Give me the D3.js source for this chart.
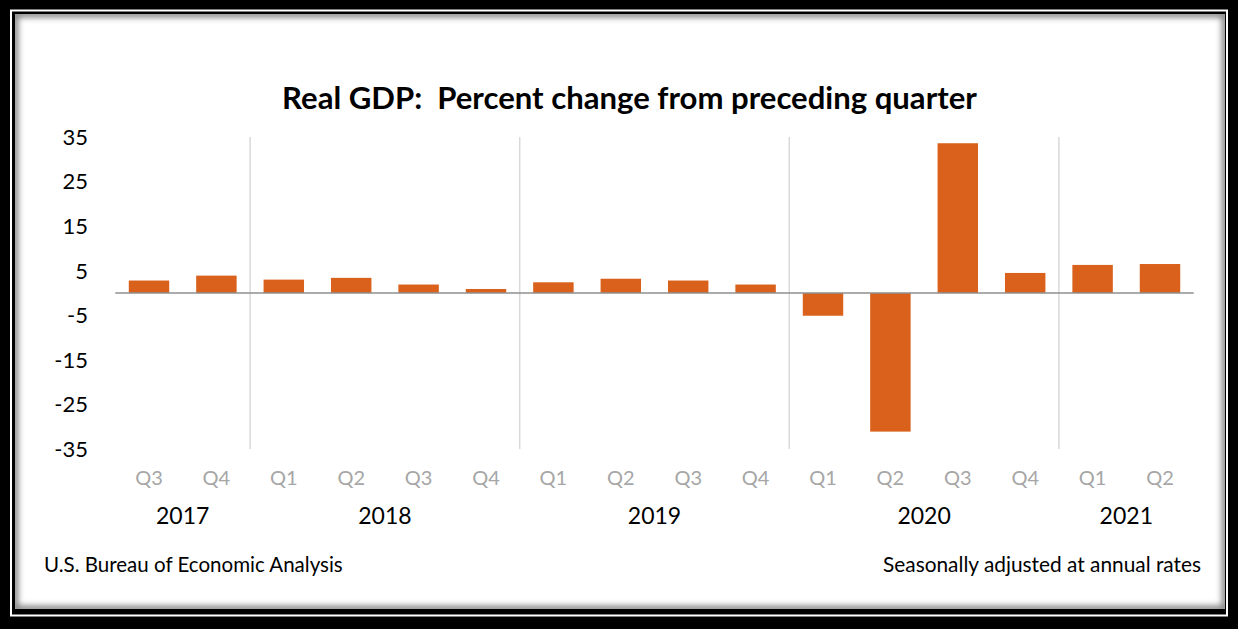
<!DOCTYPE html>
<html>
<head>
<meta charset="utf-8">
<script src="https://cdn.jsdelivr.net/npm/d3@7"></script>
<style>
  html, body { margin: 0; padding: 0; background: #fff; }
  svg { display: block; }
  text { font-family: Lato, "Open Sans", sans-serif; }
</style>
</head>
<body>
<svg id="chart" width="1238" height="629"></svg>
<script>
// ---- data ----
const quarters = ["Q3","Q4","Q1","Q2","Q3","Q4","Q1","Q2","Q3","Q4","Q1","Q2","Q3","Q4","Q1","Q2"];
const years    = ["2017","2017","2018","2018","2018","2018","2019","2019","2019","2019","2020","2020","2020","2020","2021","2021"];
const values   = [2.8, 3.9, 3.0, 3.4, 1.9, 0.9, 2.4, 3.2, 2.8, 1.9, -5.1, -31.1, 33.6, 4.5, 6.3, 6.5];
const yTicks   = [35, 25, 15, 5, -5, -15, -25, -35];
const titleText = "Real GDP:  Percent change from preceding quarter";
const sourceText = "U.S. Bureau of Economic Analysis";
const noteText = "Seasonally adjusted at annual rates";

const W = 1238, H = 629;
const svg = d3.select("#chart");
const defs = svg.append("defs");

// ---- frame ----
svg.append("rect").attr("x", 0).attr("y", 0).attr("width", W).attr("height", H).attr("fill", "#000");
svg.append("rect").attr("x", 11).attr("y", 10.5).attr("width", W - 22).attr("height", H - 24)
  .attr("fill", "none").attr("stroke", "#fff").attr("stroke-width", 2);
const cx0 = 15, cy0 = 14, cx1 = 1225, cy1 = 609;
defs.append("clipPath").attr("id", "contentClip")
  .append("rect").attr("x", cx0).attr("y", cy0).attr("width", cx1 - cx0).attr("height", cy1 - cy0);
const blur = defs.append("filter").attr("id", "blurShadow").attr("x", "-5%").attr("y", "-5%").attr("width", "110%").attr("height", "110%");
blur.append("feGaussianBlur").attr("stdDeviation", 3);
svg.append("rect").attr("x", cx0).attr("y", cy0).attr("width", cx1 - cx0).attr("height", cy1 - cy0).attr("fill", "#fff");
svg.append("g").attr("clip-path", "url(#contentClip)")
  .append("rect").attr("x", cx0).attr("y", cy0).attr("width", cx1 - cx0).attr("height", cy1 - cy0)
  .attr("fill", "none").attr("stroke", "#000").attr("stroke-opacity", 0.55).attr("stroke-width", 6)
  .attr("filter", "url(#blurShadow)");

// ---- scales ----
const keys = years.map((y, i) => y + " " + quarters[i]);
const x = d3.scaleBand().domain(keys).range([115.3, 1193.7]).paddingInner(0.4).paddingOuter(0.2);
const y = d3.scaleLinear().domain([-35, 35]).range([449, 137]);
const step = x.step(), bw = x.bandwidth();

function fitWidth(sel, target) {
  const w = sel.node().getComputedTextLength();
  const fs = parseFloat(sel.attr("font-size"));
  sel.attr("font-size", (fs * target / w).toFixed(2));
}

// ---- title ----
const title = svg.append("text").attr("x", 629.5).attr("y", 109).attr("text-anchor", "middle")
  .attr("font-size", 28).attr("font-weight", "bold").attr("fill", "#000").style("white-space", "pre")
  .attr("xml:space", "preserve").text(titleText);
fitWidth(title, 695);

// ---- year separators ----
const yearNames = Array.from(new Set(years));
const groups = yearNames.map(yr => {
  const ks = keys.filter((k, i) => years[i] === yr);
  return { year: yr, first: ks[0], last: ks[ks.length - 1] };
});
svg.append("g").selectAll("line").data(groups.slice(1)).join("line")
  .attr("x1", d => x(d.first) - (step - bw) / 2).attr("x2", d => x(d.first) - (step - bw) / 2)
  .attr("y1", y(35)).attr("y2", y(-35))
  .attr("stroke", "#d9d9d9").attr("stroke-width", 1.5);

// ---- bars ----
svg.append("g").selectAll("rect").data(values).join("rect")
  .attr("x", (d, i) => x(keys[i]))
  .attr("width", bw)
  .attr("y", d => y(Math.max(0, d)))
  .attr("height", d => Math.abs(y(d) - y(0)))
  .attr("fill", "#d9611b");

// ---- zero line ----
svg.append("line").attr("x1", x.range()[0]).attr("x2", x.range()[1]).attr("y1", y(0)).attr("y2", y(0))
  .attr("stroke", "#8f8f8f").attr("stroke-width", 1.5);

// ---- y axis labels ----
svg.append("g").selectAll("text").data(yTicks).join("text")
  .attr("x", 88).attr("y", d => y(d)).attr("dy", "0.36em").attr("text-anchor", "end")
  .attr("font-size", 22).attr("fill", "#000")
  .text(d => String(d));

// ---- quarter labels ----
svg.append("g").selectAll("text").data(keys).join("text")
  .attr("x", d => x(d) + bw / 2).attr("y", 478).attr("dy", "0.36em").attr("text-anchor", "middle")
  .attr("font-size", 20).attr("fill", "#a6a6a6")
  .text((d, i) => quarters[i]);

// ---- year labels ----
svg.append("g").selectAll("text").data(groups).join("text")
  .attr("x", d => (x(d.first) + x(d.last) + bw) / 2).attr("y", 516).attr("dy", "0.36em").attr("text-anchor", "middle")
  .attr("font-size", 23).attr("fill", "#000")
  .text(d => d.year);

// ---- footer ----
const src = svg.append("text").attr("x", 44).attr("y", 572).attr("font-size", 18).attr("fill", "#000").text(sourceText);
fitWidth(src, 299);
const note = svg.append("text").attr("x", 1201).attr("y", 572).attr("text-anchor", "end").attr("font-size", 18).attr("fill", "#000").text(noteText);
fitWidth(note, 318);
</script>
</body>
</html>
